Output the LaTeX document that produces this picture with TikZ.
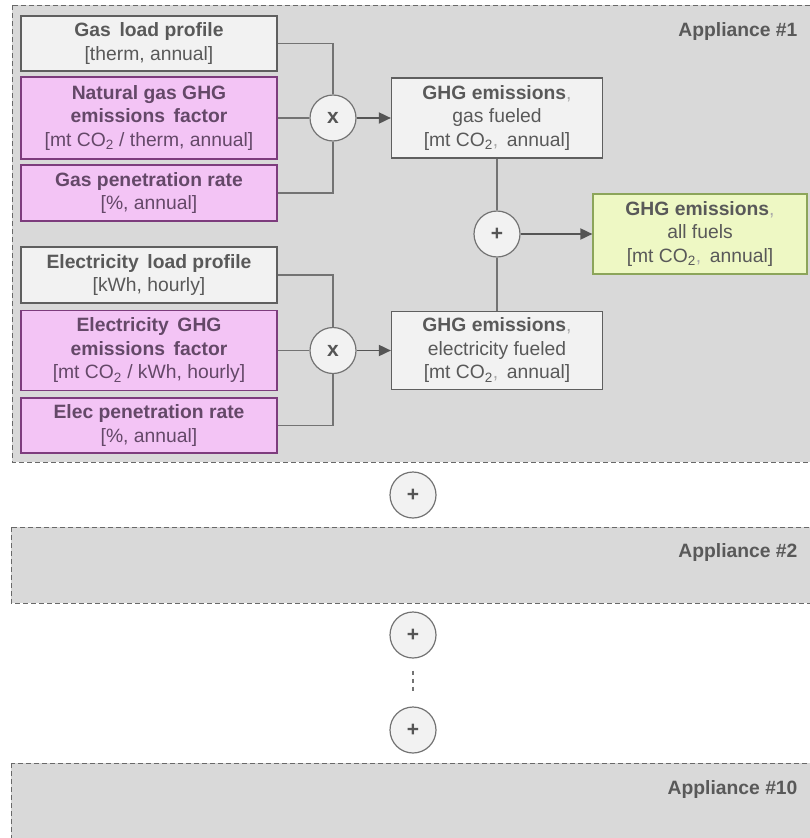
\documentclass[tikz,border=0pt]{standalone}
\usepackage{fontspec}
\setmainfont{Liberation Sans}
\usetikzlibrary{arrows.meta}
\definecolor{appfill}{RGB}{217,217,217}
\definecolor{appdash}{RGB}{105,105,105}
\definecolor{boxfill}{RGB}{242,242,242}
\definecolor{boxdraw}{RGB}{95,95,95}
\definecolor{txt}{RGB}{89,89,89}
\definecolor{pinkfill}{RGB}{243,196,245}
\definecolor{pinkdraw}{RGB}{125,60,125}
\definecolor{pinktxt}{RGB}{100,72,104}
\definecolor{greenfill}{RGB}{238,248,196}
\definecolor{greendraw}{RGB}{140,165,90}
\definecolor{linecol}{RGB}{115,115,115}
\definecolor{arrcol}{RGB}{85,85,85}
\definecolor{commacol}{RGB}{170,170,170}
\newcommand{\dsp}{\hspace{0.45em}}
\begin{document}
\begin{tikzpicture}[x=1pt,y=-1pt,
  font=\fontsize{19.3}{23.5}\selectfont,
  appbox/.style={fill=appfill, draw=appdash, dash pattern=on 5pt off 3pt, line width=1pt},
  graybox/.style={rectangle, fill=boxfill, draw=boxdraw, line width=1.2pt, text=txt, align=center, inner sep=0pt},
  pinkbox/.style={rectangle, fill=pinkfill, draw=pinkdraw, line width=1.2pt, text=pinktxt, align=center, inner sep=0pt},
  greenbox/.style={rectangle, fill=greenfill, draw=greendraw, line width=1.2pt, text=txt, align=center, inner sep=0pt},
  opcirc/.style={circle, fill=boxfill, draw=linecol, line width=1.2pt, minimum size=46pt, inner sep=0pt, text=arrcol, font=\fontsize{21}{22}\selectfont\bfseries},
  applabel/.style={anchor=east, text=txt, font=\fontsize{19.3}{22}\selectfont\bfseries},
  conn/.style={draw=linecol, line width=1.4pt},
  arr/.style={draw=arrcol, line width=1.8pt, -{Triangle[length=12pt,width=11pt]}},
]
\useasboundingbox (0,0) rectangle (810,838);
\clip (0,0) rectangle (810,838);

% appliance frames
\path[appbox] (12,5) rectangle (830,462);
\path[appbox] (11,527) rectangle (830,603);
\path[appbox] (11,763) rectangle (830,870);

\node[applabel] (a1) at (801,32) {Appliance \#1};
\node[applabel] (a2) at (801,553) {Appliance \#2};
\node[applabel] (a10) at (801,789) {Appliance \#10};

% gas branch
\node[graybox, minimum width=256pt, minimum height=55pt] (gl) at (149,43.5)
  {\textbf{Gas\dsp load profile}\\{}[therm, annual]};
\node[pinkbox, minimum width=256pt, minimum height=82pt] (ng) at (149,118)
  {\textbf{Natural gas GHG}\\\textbf{emissions\dsp factor}\\{}[mt CO\textsubscript{2} / therm, annual]};
\node[pinkbox, minimum width=256pt, minimum height=56pt] (gp) at (149,193)
  {\textbf{Gas penetration rate}\\{}[\%, annual]};
\node[opcirc] (x1) at (333,118) {x};
\node[graybox, minimum width=211pt, minimum height=80pt] (gg) at (497,118)
  {\textbf{GHG emissions}{\color{commacol},}\\gas fueled\\{}[mt CO\textsubscript{2}{\color{commacol},}\dsp annual]};

% electricity branch
\node[graybox, minimum width=256pt, minimum height=56pt] (el) at (149,275)
  {\textbf{Electricity\dsp load profile}\\{}[kWh, hourly]};
\node[pinkbox, minimum width=256pt, minimum height=80pt] (eg) at (149,350.5)
  {\textbf{Electricity\dsp GHG}\\\textbf{emissions\dsp factor}\\{}[mt CO\textsubscript{2} / kWh, hourly]};
\node[pinkbox, minimum width=256pt, minimum height=55pt] (ep) at (149,425.5)
  {\textbf{Elec penetration rate}\\{}[\%, annual]};
\node[opcirc] (x2) at (333,350.5) {x};
\node[graybox, minimum width=211pt, minimum height=78pt] (ge) at (497,350.5)
  {\textbf{GHG emissions}{\color{commacol},}\\electricity fueled\\{}[mt CO\textsubscript{2}{\color{commacol},}\dsp annual]};

% sum
\node[opcirc] (p1) at (497,234) {+};
\node[greenbox, minimum width=214pt, minimum height=80pt] (af) at (700,234)
  {\textbf{GHG emissions}{\color{commacol},}\\all fuels\\{}[mt CO\textsubscript{2}{\color{commacol},}\dsp annual]};

% connectors gas
\draw[conn] (gl.east) -| (x1.north);
\draw[conn] (gp.east) -| (x1.south);
\draw[conn] (ng.east) -- (x1.west);
\draw[arr] (x1.east) -- (gg.west);
% connectors electricity
\draw[conn] (el.east) -| (x2.north);
\draw[conn] (ep.east) -| (x2.south);
\draw[conn] (eg.east) -- (x2.west);
\draw[arr] (x2.east) -- (ge.west);
% sum connectors
\draw[conn] (gg.south) -- (p1.north);
\draw[conn] (ge.north) -- (p1.south);
\draw[arr] (p1.east) -- (af.west);

% appliance sums
\node[opcirc] (s1) at (413,495) {+};
\node[opcirc] (s2) at (413,635) {+};
\node[opcirc] (s3) at (413,730) {+};
\draw[draw=linecol, line width=1.4pt, dash pattern=on 4pt off 4pt] ([yshift=-12pt]s2.south) -- ([yshift=14pt]s3.north);
\end{tikzpicture}
\end{document}
